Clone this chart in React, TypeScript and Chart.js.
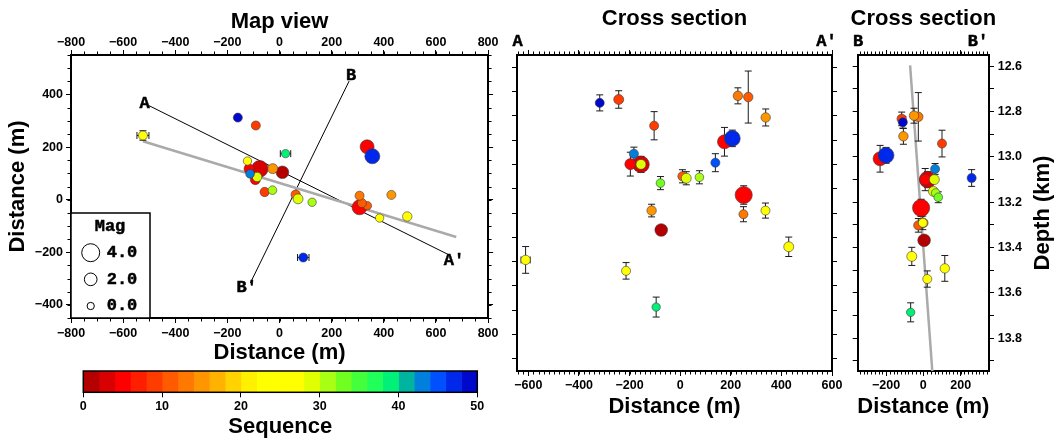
import React, { useEffect, useRef } from "react";
import { Chart, registerables } from "chart.js";

Chart.register(...registerables);

// ===================== DATA =====================
// Colour scale (Sequence)
const seqEdges = [0, 2, 4, 6, 8, 10, 12, 14, 16, 18, 20, 22, 24, 26, 28, 30, 32, 34, 36, 38, 40, 42, 44, 46, 48, 50];
const seqColors = [
  "#b40000", "#d80000", "#ff0000", "#ff1e00", "#ff3c00", "#ff5a00", "#ff7800", "#ff9600",
  "#ffb200", "#ffd200", "#fff000", "#ffff00", "#ffff00", "#ffff00", "#e0ff00", "#a8ff14",
  "#70ff20", "#44ff3c", "#20ff5a", "#00f078", "#00b4a0", "#0080dc", "#0050ff", "#0028ea", "#0008cc",
];
const seqTicks = [0, 10, 20, 30, 40, 50];

// Magnitude legend
const magLegend = [4.0, 2.0, 0.0];

// Map view
const mapTicksX = [-800, -600, -400, -200, 0, 200, 400, 600, 800];
const mapTicksY = [-400, -200, 0, 200, 400];
const mapX = [-160, -91, -524, 23, 336, 356, -123, -76, -117, -26, 11, -113, -86, -93, -57, -27, 62, 71, 125, 307, 429, 307, 316, 337, 384, 490, 91];
const mapY = [312, 282, 244, 175, 201, 165, 147, 117, 117, 118, 104, 98, 86, 76, 29, 36, 19, 3, -10, 15, 18, -29, -13, -23, -70, -64, -220];
const mapSeq = [48, 9, 24, 38, 5, 47, 24, 3, 4, 15, 1, 43, 29, 4, 9, 31, 11, 29, 31, 13, 15, 5, 11, 10, 24, 24, 47];
const mapMag = [0.65, 0.65, 0.65, 0.4, 2.5, 2.9, 0.4, 3.5, 1.0, 1.0, 2.0, 0.5, 0.8, 1.0, 0.75, 0.5, 0.75, 1.0, 0.4, 0.65, 0.65, 2.9, 0.65, 0.4, 0.4, 0.8, 0.65];
const mapErrX = [0, 0, 23, 20, 0, 0, 0, 0, 0, 0, 0, 0, 0, 0, 0, 0, 0, 0, 0, 0, 0, 0, 0, 0, 0, 0, 22];
const mapErrY = [0, 0, 18, 0, 0, 0, 0, 0, 0, 0, 0, 0, 0, 0, 0, 0, 0, 0, 0, 0, 0, 0, 0, 0, 0, 0, 0];
const profileAX = [-502, 650];
const profileAY = [358, -210];
const profileBX = [267, -112];
const profileBY = [451, -317];
const fitMapX = [-524, 678];
const fitMapY = [222, -142];
const mapLabelText = ["A", "A\u2032", "B", "B\u2032"];
const mapLabelX = [-518, 669, 275, -126];
const mapLabelY = [364, -231, 470, -333];

// Cross section A - A'
const secATicksX = [-600, -400, -200, 0, 200, 400, 600];
const secADist = [-318, -243, -103, 228, 269, 338, 175, 206, -183, -197, -155, -155, -78, 9, 24, 76, 139, 251, -113, 250, 337, -75, 429, -611, -214, -95];
const secADepth = [12.847, 12.833, 12.941, 12.818, 12.823, 12.907, 13.007, 12.993, 13.056, 13.099, 13.1, 13.1, 13.177, 13.149, 13.157, 13.153, 13.093, 13.226, 13.29, 13.305, 13.29, 13.37, 13.439, 13.493, 13.538, 13.687];
const secASeq = [48, 9, 9, 13, 11, 15, 5, 47, 43, 4, 3, 29, 33, 11, 29, 31, 45, 5, 15, 13, 24, 1, 24, 24, 24, 38];
const secAMag = [0.65, 1.0, 0.65, 0.8, 0.8, 0.8, 2.5, 3.2, 0.65, 1.4, 3.5, 1.0, 0.5, 0.75, 1.0, 0.5, 0.65, 3.7, 0.8, 0.65, 0.65, 2.0, 1.0, 0.8, 0.65, 0.4];
const secAErrZ = [0.033, 0.036, 0.058, 0.033, 0.107, 0.035, 0.059, 0.034, 0.027, 0.049, 0.033, 0, 0.027, 0.027, 0.027, 0.027, 0.037, 0.038, 0.026, 0.031, 0.031, 0, 0.04, 0.055, 0.034, 0.041];
const secAErrX = [0, 0, 0, 0, 0, 0, 0, 0, 0, 0, 0, 0, 0, 0, 0, 0, 0, 0, 0, 0, 0, 0, 0, 18, 0, 0];

// Cross section B - B'
const secBTicksX = [-200, 0, 200];
const secBDist = [-116, -110, -107, -50, -27, 100, -232, -200, 63, 259, 23, 10, 59, 54, 66, 80, -12, -27, 0, -3, 4, -62, 115, 21, -68];
const secBDepth = [12.832, 12.847, 12.909, 12.818, 12.823, 12.941, 13.008, 12.993, 13.053, 13.093, 13.1, 13.1, 13.1, 13.152, 13.159, 13.178, 13.225, 13.302, 13.291, 13.291, 13.368, 13.439, 13.492, 13.539, 13.686];
const secBSeq = [9, 48, 15, 14, 12, 9, 4, 47, 43, 47, 3, 4, 29, 29, 31, 33, 5, 11, 14, 24, 1, 24, 24, 24, 38];
const secBMag = [0.8, 0.65, 0.8, 0.8, 0.8, 0.65, 2.5, 3.2, 0.65, 0.65, 3.5, 1.4, 1.0, 1.0, 0.5, 0.5, 3.7, 0.75, 0.8, 0.65, 2.0, 1.0, 0.8, 0.65, 0.4];
const secBErrZ = [0.03, 0.026, 0.035, 0.033, 0.107, 0.059, 0.059, 0.035, 0.024, 0.037, 0.035, 0.049, 0, 0, 0, 0.024, 0.038, 0.03, 0, 0.03, 0, 0.04, 0.057, 0.036, 0.042];
const fitBDist = [-71, 48];
const fitBDepth = [12.596, 13.945];

// Depth axis
const depthTicks = [12.6, 12.7, 12.8, 12.9, 13.0, 13.1, 13.2, 13.3, 13.4, 13.5, 13.6, 13.7, 13.8, 13.9];
const depthLabels = [12.6, 12.8, 13.0, 13.2, 13.4, 13.6, 13.8];

// ===================== HELPERS =====================
const SANS = "'Liberation Sans', Arial, Helvetica, sans-serif";
const MONO = "'Liberation Mono', 'Courier New', monospace";

const fmtNum = (v: number) => (v < 0 ? "\u2212" + Math.abs(v) : String(v));
const fmtDepth = (v: number) => (depthLabels.some((l) => Math.abs(l - v) < 1e-6) ? v.toFixed(1) : "");

function seqColor(s: number) {
  for (let i = 0; i < seqColors.length; i++) if (s < seqEdges[i + 1]) return seqColors[i];
  return seqColors[seqColors.length - 1];
}
const magRadius = (m: number) => (7.3 + 2.67 * m) / 2;

function drawText(ctx: any, text: string, x: number, y: number, font: string, align = "center", rot = 0, stroke = 0) {
  ctx.save();
  ctx.translate(x, y);
  ctx.rotate(rot);
  ctx.font = font;
  ctx.fillStyle = "#000";
  ctx.textAlign = align;
  ctx.textBaseline = "middle";
  ctx.fillText(text, 0, 0);
  if (stroke > 0) {
    ctx.lineWidth = stroke;
    ctx.strokeStyle = "#000";
    ctx.lineJoin = "round";
    ctx.strokeText(text, 0, 0);
  }
  ctx.restore();
}
const monoText = (ctx: any, text: string, x: number, y: number, align = "center") =>
  drawText(ctx, text, x, y, `bold 17px ${MONO}`, align, 0, 0.5);

function axis(o: any): any {
  const horiz = o.position === "top" || o.position === "bottom";
  const lo = Math.min(o.min, o.max);
  const hi = Math.max(o.min, o.max);
  return {
    type: "linear",
    position: o.position,
    min: o.min,
    max: o.max,
    reverse: !!o.reverse,
    afterBuildTicks: (s: any) => {
      s.ticks = o.ticks.filter((v: number) => v >= lo - 1e-9 && v <= hi + 1e-9).map((v: number) => ({ value: v }));
    },
    afterFit: (s: any) => {
      if (horiz) s.height = o.size;
      else s.width = o.size;
    },
    grid: { display: true, drawOnChartArea: false, drawTicks: true, tickLength: 5, color: "#000", lineWidth: 1 },
    border: { display: true, color: "#000", width: 2 },
    ticks: {
      display: !!o.labels,
      padding: o.pad ?? 3,
      autoSkip: false,
      maxRotation: 0,
      minRotation: 0,
      color: "#000",
      font: { family: SANS, size: 12.5, weight: "bold" },
      callback: (v: any) => (o.fmt || fmtNum)(Number(v)),
    },
    title: o.title || { display: false },
  };
}

function axisTitle(text: string, padding: any) {
  return { display: true, text, color: "#000", font: { family: SANS, size: 22, weight: "bold" }, padding };
}

function minorTicks(steps: any, len = 3.5) {
  return {
    id: "minorTicks",
    afterDraw(chart: any) {
      const ctx = chart.ctx;
      const a = chart.chartArea;
      ctx.save();
      ctx.strokeStyle = "#000";
      ctx.lineWidth = 1;
      Object.keys(steps).forEach((id) => {
        const s = chart.scales[id];
        if (!s) return;
        const step = steps[id];
        const lo = Math.min(s.min, s.max);
        const hi = Math.max(s.min, s.max);
        const n0 = Math.ceil(lo / step - 1e-9);
        const n1 = Math.floor(hi / step + 1e-9);
        ctx.beginPath();
        for (let n = n0; n <= n1; n++) {
          const p = Math.round(s.getPixelForValue(n * step)) + 0.5;
          if (s.position === "bottom") { ctx.moveTo(p, a.bottom); ctx.lineTo(p, a.bottom + len); }
          else if (s.position === "top") { ctx.moveTo(p, a.top); ctx.lineTo(p, a.top - len); }
          else if (s.position === "left") { ctx.moveTo(a.left, p); ctx.lineTo(a.left - len, p); }
          else { ctx.moveTo(a.right, p); ctx.lineTo(a.right + len, p); }
        }
        ctx.stroke();
      });
      ctx.restore();
    },
  };
}

const errorBars = {
  id: "errorBars",
  beforeDatasetDraw(chart: any, args: any) {
    const ds = chart.data.datasets[args.index];
    if (!ds.errorBars) return;
    const xs = chart.scales[args.meta.xAxisID];
    const ys = chart.scales[args.meta.yAxisID];
    const ctx = chart.ctx;
    const a = chart.chartArea;
    const cap = 3.5;
    ctx.save();
    ctx.beginPath();
    ctx.rect(a.left, a.top, a.right - a.left, a.bottom - a.top);
    ctx.clip();
    ctx.strokeStyle = "#1a1a1a";
    ctx.lineWidth = 1;
    ctx.beginPath();
    ds.data.forEach((d: any) => {
      const px = xs.getPixelForValue(d.x);
      const py = ys.getPixelForValue(d.y);
      if (d.ye) {
        const y1 = ys.getPixelForValue(d.y - d.ye);
        const y2 = ys.getPixelForValue(d.y + d.ye);
        ctx.moveTo(px, y1); ctx.lineTo(px, y2);
        ctx.moveTo(px - cap, y1); ctx.lineTo(px + cap, y1);
        ctx.moveTo(px - cap, y2); ctx.lineTo(px + cap, y2);
      }
      if (d.xe) {
        const x1 = xs.getPixelForValue(d.x - d.xe);
        const x2 = xs.getPixelForValue(d.x + d.xe);
        ctx.moveTo(x1, py); ctx.lineTo(x2, py);
        ctx.moveTo(x1, py - cap); ctx.lineTo(x1, py + cap);
        ctx.moveTo(x2, py - cap); ctx.lineTo(x2, py + cap);
      }
    });
    ctx.stroke();
    ctx.restore();
  },
};

function pointsDataset(xs: number[], ys: number[], seqs: number[], mags: number[], errX: number[], errY: number[]) {
  const idx = xs.map((_, i) => i).sort((a, b) => seqs[a] - seqs[b] || a - b);
  return {
    type: "scatter",
    errorBars: true,
    order: 0,
    data: idx.map((i) => ({ x: xs[i], y: ys[i], seq: seqs[i], mag: mags[i], xe: errX[i] || 0, ye: errY[i] || 0 })),
    pointRadius: (c: any) => (c.raw ? magRadius(c.raw.mag) : 3),
    pointHoverRadius: (c: any) => (c.raw ? magRadius(c.raw.mag) : 3),
    pointBackgroundColor: (c: any) => (c.raw ? seqColor(c.raw.seq) : "#000"),
    pointBorderColor: "#3a3a3a",
    pointBorderWidth: 0.6,
  };
}

function lineDataset(xs: number[], ys: number[], color: string, width: number, order: number) {
  return {
    type: "scatter",
    order,
    showLine: true,
    data: xs.map((x, i) => ({ x, y: ys[i] })),
    borderColor: color,
    borderWidth: width,
    pointRadius: 0,
    pointHoverRadius: 0,
  };
}

const baseOptions = {
  responsive: false,
  animation: false,
  events: [],
  layout: { padding: 0 },
  plugins: { legend: { display: false }, tooltip: { enabled: false } },
};

// ===================== COMPONENT =====================
export default function App() {
  const mapRef = useRef<HTMLCanvasElement>(null);
  const aRef = useRef<HTMLCanvasElement>(null);
  const bRef = useRef<HTMLCanvasElement>(null);
  const cbRef = useRef<HTMLCanvasElement>(null);

  useEffect(() => {
    Chart.defaults.font.family = SANS;
    const charts: any[] = [];

    // ---------- Map view ----------
    const mapDecor = {
      id: "mapDecor",
      afterDraw(chart: any) {
        const ctx = chart.ctx;
        const a = chart.chartArea;
        const xs = chart.scales.x;
        const ys = chart.scales.y;
        drawText(ctx, "Map view", (a.left + a.right) / 2, 22, `bold 22px ${SANS}`);
        mapLabelText.forEach((t, i) => {
          monoText(ctx, t, xs.getPixelForValue(mapLabelX[i]), ys.getPixelForValue(mapLabelY[i]));
        });
        // magnitude legend
        const bw = 79, bh = 105;
        const bx = a.left, by = a.bottom - bh;
        ctx.save();
        ctx.fillStyle = "#fff";
        ctx.fillRect(bx, by, bw, bh);
        ctx.lineWidth = 1.5;
        ctx.strokeStyle = "#000";
        ctx.strokeRect(bx, by, bw, bh);
        ctx.restore();
        monoText(ctx, "Mag", bx + 39, by + 14);
        magLegend.forEach((m, i) => {
          const cy = by + 39.7 + i * 26.65;
          ctx.save();
          ctx.beginPath();
          ctx.arc(bx + 19.7, cy, magRadius(m), 0, Math.PI * 2);
          ctx.fillStyle = "#fff";
          ctx.fill();
          ctx.lineWidth = 1;
          ctx.strokeStyle = "#000";
          ctx.stroke();
          ctx.restore();
          monoText(ctx, m.toFixed(1), bx + 35.7, cy, "left");
        });
      },
    };

    charts.push(
      new Chart(mapRef.current as any, {
        type: "scatter",
        data: {
          datasets: [
            pointsDataset(mapX, mapY, mapSeq, mapMag, mapErrX, mapErrY),
            lineDataset(fitMapX, fitMapY, "#aaaaaa", 2.5, 1),
            lineDataset(profileAX, profileAY, "#000", 1, 2),
            lineDataset(profileBX, profileBY, "#000", 1, 2),
          ] as any,
        },
        options: {
          ...baseOptions,
          scales: {
            x: axis({ position: "bottom", min: -800, max: 800, ticks: mapTicksX, size: 54, labels: true, pad: 3.5, title: axisTitle("Distance (m)", { top: 0, bottom: 6 }) }),
            x2: axis({ position: "top", min: -800, max: 800, ticks: mapTicksX, size: 55, labels: true, pad: 0 }),
            y: axis({ position: "left", min: -450, max: 550, ticks: mapTicksY, size: 71, labels: true, pad: 3, title: axisTitle("Distance (m)", { top: 4.3, bottom: 0 }) }),
            y2: axis({ position: "right", min: -450, max: 550, ticks: mapTicksY, size: 11 }),
          },
        } as any,
        plugins: [errorBars, minorTicks({ x: 50, x2: 50, y: 50, y2: 50 }), mapDecor],
      })
    );

    // ---------- Cross section A-A' ----------
    const aDecor = {
      id: "aDecor",
      afterDraw(chart: any) {
        const ctx = chart.ctx;
        const a = chart.chartArea;
        drawText(ctx, "Cross section", (a.left + a.right) / 2, 18.5, `bold 22px ${SANS}`);
        monoText(ctx, "A", a.left + 0.5, 41.7);
        monoText(ctx, "A\u2032", a.right - 5.5, 41.7);
      },
    };
    charts.push(
      new Chart(aRef.current as any, {
        type: "scatter",
        data: { datasets: [pointsDataset(secADist, secADepth, secASeq, secAMag, secAErrX, secAErrZ)] as any },
        options: {
          ...baseOptions,
          scales: {
            x: axis({ position: "bottom", min: -645, max: 600, ticks: secATicksX, size: 69, labels: true, pad: 2.5, title: axisTitle("Distance (m)", { top: 0, bottom: 20 }) }),
            x2: axis({ position: "top", min: -645, max: 600, ticks: secATicksX, size: 55 }),
            y: axis({ position: "left", min: 12.65, max: 13.95, reverse: true, ticks: depthTicks, size: 17 }),
            y2: axis({ position: "right", min: 12.65, max: 13.95, reverse: true, ticks: depthTicks, size: 13 }),
          },
        } as any,
        plugins: [errorBars, minorTicks({ x: 20, x2: 20 }), aDecor],
      })
    );

    // ---------- Cross section B-B' ----------
    const bDecor = {
      id: "bDecor",
      afterDraw(chart: any) {
        const ctx = chart.ctx;
        const a = chart.chartArea;
        const cx = (a.left + a.right) / 2;
        drawText(ctx, "Cross section", cx, 18.5, `bold 22px ${SANS}`);
        monoText(ctx, "B", a.left + 0.5, 41.7);
        monoText(ctx, "B\u2032", a.right - 11, 41.7);
        drawText(ctx, "Distance (m)", cx, 406.7, `bold 22px ${SANS}`);
        drawText(ctx, "Depth (km)", a.right + 54, (a.top + a.bottom) / 2, `bold 22px ${SANS}`, "center", -Math.PI / 2);
      },
    };
    charts.push(
      new Chart(bRef.current as any, {
        type: "scatter",
        data: {
          datasets: [
            pointsDataset(secBDist, secBDepth, secBSeq, secBMag, [], secBErrZ),
            lineDataset(fitBDist, fitBDepth, "#aaaaaa", 2.5, 1),
          ] as any,
        },
        options: {
          ...baseOptions,
          scales: {
            x: axis({ position: "bottom", min: -352, max: 352, ticks: secBTicksX, size: 69, labels: true, pad: 2.5 }),
            x2: axis({ position: "top", min: -352, max: 352, ticks: secBTicksX, size: 55 }),
            y: axis({ position: "left", min: 12.55, max: 13.945, reverse: true, ticks: depthTicks, size: 12.7 }),
            y2: axis({ position: "right", min: 12.55, max: 13.945, reverse: true, ticks: depthTicks, size: 68, labels: true, pad: 3.7, fmt: fmtDepth }),
          },
        } as any,
        plugins: [errorBars, minorTicks({ x: 20, x2: 20 }), bDecor],
      })
    );

    // ---------- Colour bar ----------
    const cbFrame = {
      id: "cbFrame",
      afterDraw(chart: any) {
        const ctx = chart.ctx;
        const a = chart.chartArea;
        ctx.save();
        ctx.lineWidth = 1.5;
        ctx.strokeStyle = "#000";
        ctx.strokeRect(a.left, a.top, a.right - a.left, a.bottom - a.top);
        ctx.restore();
      },
    };
    charts.push(
      new Chart(cbRef.current as any, {
        type: "bar",
        data: {
          labels: [""],
          datasets: seqColors.map((c, i) => ({
            data: [[seqEdges[i], seqEdges[i + 1]]],
            backgroundColor: c,
            borderWidth: 0,
            barPercentage: 1,
            categoryPercentage: 1,
            grouped: false,
          })) as any,
        },
        options: {
          ...baseOptions,
          indexAxis: "y",
          layout: { padding: { left: 13.3, right: 12.7, top: 9, bottom: 0 } },
          scales: {
            x: {
              ...axis({ position: "bottom", min: 0, max: 50, ticks: seqTicks, size: 47.7, labels: true, pad: 1.5, title: axisTitle("Sequence", { top: 0, bottom: 0 }) }),
              border: { display: false },
            },
            y: { display: false },
          },
        } as any,
        plugins: [cbFrame],
      })
    );

    return () => charts.forEach((c) => c.destroy());
  }, []);

  return (
    <div style={{ position: "absolute", left: 0, top: 0, width: 1057, height: 440, overflow: "hidden", background: "#fff" }}>
      <canvas ref={mapRef} width={502} height={372} style={{ position: "absolute", left: 0, top: 0 }} />
      <canvas ref={aRef} width={345} height={440} style={{ position: "absolute", left: 500, top: 0 }} />
      <canvas ref={bRef} width={212} height={440} style={{ position: "absolute", left: 845, top: 0 }} />
      <canvas ref={cbRef} width={420} height={78} style={{ position: "absolute", left: 70, top: 362 }} />
    </div>
  );
}
